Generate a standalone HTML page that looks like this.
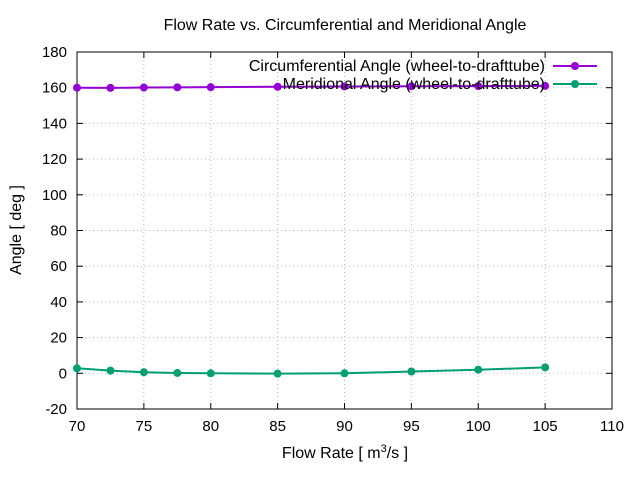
<!DOCTYPE html>
<html><head><meta charset="utf-8"><style>body{margin:0;background:#fff}svg{font-family:"Liberation Sans",sans-serif}</style></head>
<body>
<svg id="c" width="640" height="480"></svg>
<script>
const xs=[70,72.5,75,77.5,80,85,90,95,100,105];
const circ=[160.0,159.9,160.1,160.2,160.3,160.5,160.7,160.8,160.9,161.0];
const merid=[2.8,1.5,0.6,0.2,0.0,-0.2,0.0,1.0,2.0,3.3];
const xTicks=[70,75,80,85,90,95,100,105,110];
const yTicks=[-20,0,20,40,60,80,100,120,140,160,180];
const svg=document.getElementById('c');const NS='http://www.w3.org/2000/svg';
const L=77,R=612,T=52,B=409;
const X=v=>L+(v-70)/40*(R-L), Y=v=>B-(v+20)/200*(B-T);
function el(t,a,p){const e=document.createElementNS(NS,t);for(const k in a)e.setAttribute(k,a[k]);(p||svg).appendChild(e);return e;}
let t=el('text',{x:345,y:30,'text-anchor':'middle','font-size':16});t.textContent='Flow Rate vs. Circumferential and Meridional Angle';

xTicks.forEach(v=>{const x=X(v);
 if(v>70&&v<110){let g=el('line',{x1:x,x2:x,y1:T,y2:B,stroke:'#bbb','stroke-dasharray':'1,3'});}
 el('line',{x1:x,x2:x,y1:B,y2:B-6,stroke:'#000'});el('line',{x1:x,x2:x,y1:T,y2:T+6,stroke:'#000'});
 let l=el('text',{x:x,y:B+22,'text-anchor':'middle','font-size':15});l.textContent=v;
 });
yTicks.forEach(v=>{const y=Y(v);
 if(v>-20&&v<180){let g=el('line',{x1:L,x2:R,y1:y,y2:y,stroke:'#bbb','stroke-dasharray':'1,3'});}
 el('line',{x1:L,x2:L+6,y1:y,y2:y,stroke:'#000'});el('line',{x1:R,x2:R-6,y1:y,y2:y,stroke:'#000'});
 let l=el('text',{x:L-10,y:y+5,'text-anchor':'end','font-size':15});l.textContent=v;
 });
let fr=el('rect',{x:L,y:T,width:R-L,height:B-T,fill:'none',stroke:'#000'});
let xt=el('text',{x:345,y:458,'text-anchor':'middle','font-size':16});xt.innerHTML='Flow Rate [ m<tspan dy="-6" font-size="11">3</tspan><tspan dy="6">/s ]</tspan>';

let yt=el('text',{x:21,y:230,'text-anchor':'middle','font-size':16,transform:'rotate(-90 21 230)'});yt.textContent='Angle [ deg ]';

function series(vals,col,name){const g=el('g',{});
 el('polyline',{points:xs.map((x,i)=>X(x)+','+Y(vals[i])).join(' '),fill:'none',stroke:col,'stroke-width':2},g);
 xs.forEach((x,i)=>{let c=el('circle',{cx:X(x),cy:Y(vals[i]),r:4,fill:col},g);});}
series(merid,'#009e73','meridional-series');
series(circ,'#9400d3','circumferential-series');
[['Circumferential Angle (wheel-to-drafttube)','#9400d3',66],['Meridional Angle (wheel-to-drafttube)','#009e73',84]].forEach(([s,c,y])=>{
 const g=el('g',{});
 let tx=el('text',{x:545,y:y+5,'text-anchor':'end','font-size':16},g);tx.textContent=s;
 el('line',{x1:553,x2:597,y1:y,y2:y,stroke:c,'stroke-width':2},g);el('circle',{cx:575,cy:y,r:4,fill:c},g);});
</script>
</body></html>
